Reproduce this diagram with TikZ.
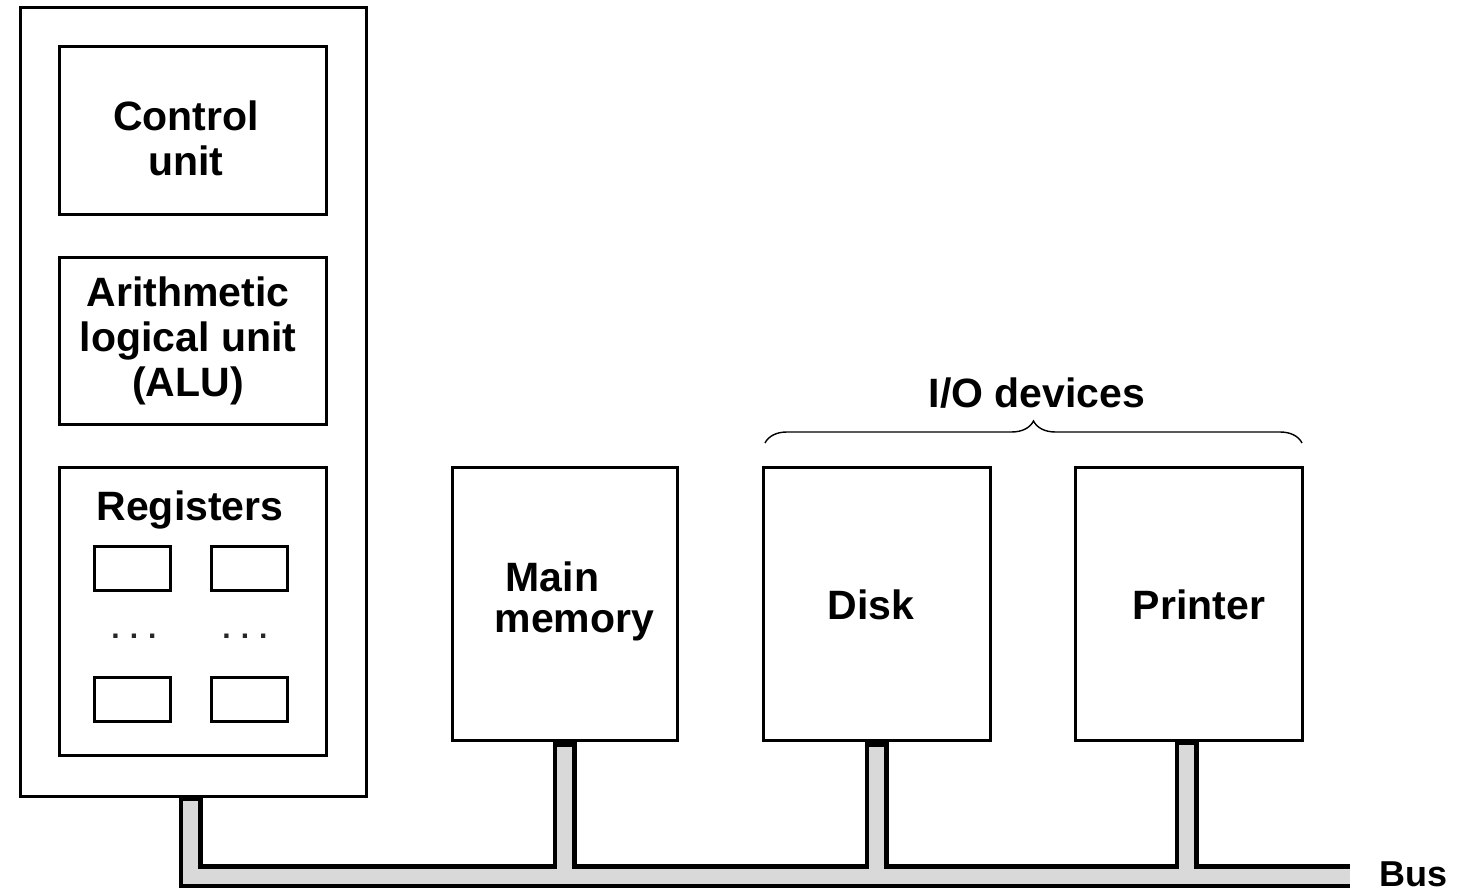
\documentclass[tikz,border=0pt]{standalone}
\usepackage{fontspec}
\setmainfont{Liberation Sans}
\usetikzlibrary{decorations.pathreplacing}
\begin{document}
\begin{tikzpicture}[x=0.5pt,y=-0.5pt,
  box/.style={draw=black,line width=1.5pt,fill=white,inner sep=0pt},
  lbl/.style={font=\fontsize{20.5}{22.5}\selectfont\bfseries,align=center,inner sep=0pt},
  dots/.style={font=\fontsize{15}{18}\selectfont\bfseries,inner sep=0pt,text=black!85},
  busout/.style={line width=12pt,draw=black,line join=miter},
  busin/.style={line width=7.5pt,draw=black!15,line join=miter}]
\useasboundingbox (0,0) rectangle (1458,893);
% CPU
\node[box,minimum width=173pt,minimum height=394pt] (cpu) at (193,402) {};
\node[box,minimum width=133.5pt,minimum height=84pt] (cu) at (192.5,131) {};
\node[box,minimum width=133.5pt,minimum height=83.5pt] (alu) at (192.5,341.5) {};
\node[box,minimum width=133.5pt,minimum height=143.5pt] (regs) at (192.5,611.5) {};
\node[lbl] (cut) at (186,138) {Control\\unit};
\node[lbl] (alut) at (188,341) {Arithmetic\\logical unit\\(ALU)};
\node[lbl] (regt) at (190,510) {Registers};
\node[box,minimum width=38pt,minimum height=22pt] (r1) at (132,568) {};
\node[box,minimum width=38pt,minimum height=22pt] (r2) at (249.5,568) {};
\node[box,minimum width=38pt,minimum height=22pt] (r3) at (132,699.5) {};
\node[box,minimum width=38pt,minimum height=22pt] (r4) at (249.5,699.5) {};
\node[dots] (d1) at (134,636) {.\,\,.\,\,.};
\node[dots] (d2) at (245,636) {.\,\,.\,\,.};
% devices
\node[box,minimum width=112.5pt,minimum height=136pt] (mem) at (564.5,604) {};
\node[box,minimum width=113.5pt,minimum height=136pt] (disk) at (876.5,604) {};
\node[box,minimum width=113.5pt,minimum height=136pt] (prn) at (1188.5,604) {};
\node[lbl,anchor=base] (memt1) at (552.5,591) {Main};
\node[lbl,anchor=base] (memt2) at (574.5,632) {memory};
\node[lbl] (diskt) at (871,605) {Disk};
\node[lbl] (prnt) at (1199,605) {Printer};
\node[lbl] (iot) at (1037,393) {I/O devices};
\draw[decorate,decoration={brace,amplitude=11pt},line width=0.7pt]
  (765,443) -- (1302,443);
% bus
\coordinate (busL) at (190.5,876);
\coordinate (busR) at (1350,876);
\coordinate (cpuS) at (190.5,796);
\coordinate (prnS) at (1186.5,740);
\draw[busout] (cpuS) -- (busL) -- (busR);
\draw[busout] (mem.south) -- (mem.south |- busL);
\draw[busout] (disk.south) -- (disk.south |- busL);
\draw[busout] (prnS) -- (prnS |- busL);
\draw[busin,shorten <=2.5pt] (cpuS) -- (busL) -- (busR);
\draw[busin,shorten <=2.5pt] (mem.south) -- (mem.south |- busL);
\draw[busin,shorten <=2.5pt] (disk.south) -- (disk.south |- busL);
\draw[busin,shorten <=2.5pt] (prnS) -- (prnS |- busL);
\node[lbl,anchor=base,font=\fontsize{18}{20}\selectfont\bfseries] (bust) at (1413.5,886) {Bus};
\end{tikzpicture}
\end{document}
